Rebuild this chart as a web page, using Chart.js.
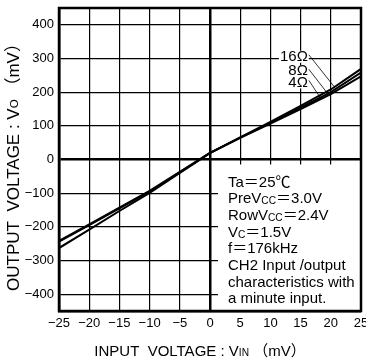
<!DOCTYPE html>
<html>
<head>
<meta charset="utf-8">
<script src="https://cdn.jsdelivr.net/npm/chart.js@4"></script>
<style>
  body { margin: 0; background: #fff; }
  #wrap { width: 366px; height: 362px; }
</style>
</head>
<body>
<div id="wrap"><canvas id="chart"></canvas></div>
<script>
const xs = [-25, -20, -15, -10, -5, 0, 5, 10, 15, 20, 25];
const vo4 = [-242, -193, -143, -93, -37, 20, 64, 107, 150, 194, 247];
const vo8 = [-244, -195, -145, -95, -38, 20, 65, 109, 154, 200, 258];
const vo16 = [-263, -208, -153, -99, -40, 19, 66, 112, 159, 208, 269];
const xTicks = [-25, -20, -15, -10, -5, 0, 5, 10, 15, 20, 25];
const yTicks = [-400, -300, -200, -100, 0, 100, 200, 300, 400];

const conditions = [
  [['Ta＝25℃']],
  [['PreV'], ['CC', 1], ['＝3.0V']],
  [['RowV'], ['CC', 1], ['＝2.4V']],
  [['V'], ['C', 1], ['＝1.5V']],
  [['f＝176kHz']],
  [['CH2 Input /output']],
  [['characteristics with']],
  [['a minute input.']]
];
const yTitle = [['OUTPUT  VOLTAGE : V'], ['O', 1], [' （mV）']];
const xTitle = [['INPUT  VOLTAGE : V'], ['IN', 1], [' （mV）']];

const FONT = '"Liberation Sans", Arial, "Noto Sans CJK JP", sans-serif';

function pts(vals) {
  return xs.map((x, i) => ({ x, y: vals[i] }));
}

function interp(vals, x) {
  for (let i = 0; i < xs.length - 1; i++) {
    if (x >= xs[i] && x <= xs[i + 1]) {
      const t = (x - xs[i]) / (xs[i + 1] - xs[i]);
      return vals[i] + t * (vals[i + 1] - vals[i]);
    }
  }
  return vals[vals.length - 1];
}

// draws text pieces, small ones are subscript-like small caps
function runsWidth(ctx, runs, size) {
  let w = 0;
  runs.forEach(r => {
    ctx.font = (r[1] ? size * 0.68 : size) + 'px ' + FONT;
    w += ctx.measureText(r[0]).width;
  });
  return w;
}
function drawRuns(ctx, runs, x, y, size) {
  runs.forEach(r => {
    ctx.font = (r[1] ? size * 0.68 : size) + 'px ' + FONT;
    ctx.fillText(r[0], x, y + (r[1] ? 1 : 0));
    x += ctx.measureText(r[0]).width;
  });
}

const decor = {
  id: 'decor',
  beforeDatasetsDraw(chart) {
    const { ctx, scales: { x, y }, chartArea: a } = chart;
    const left = x.getPixelForValue(0) + 8;
    const top = y.getPixelForValue(0) + 5;
    ctx.save();
    ctx.fillStyle = '#fff';
    ctx.fillRect(left, top, a.right - left, a.bottom - top);
    ctx.restore();
  },
  afterDraw(chart) {
    const { ctx, scales: { x, y }, chartArea: a } = chart;
    ctx.save();
    // frame
    ctx.strokeStyle = '#000';
    ctx.lineWidth = 2.5;
    ctx.strokeRect(a.left, a.top, a.right - a.left, a.bottom - a.top);

    // conditions text
    ctx.fillStyle = '#000';
    ctx.textBaseline = 'alphabetic';
    ctx.textAlign = 'left';
    const bx = x.getPixelForValue(0) + 18;
    const by = y.getPixelForValue(0) + 27;
    conditions.forEach((line, i) => drawRuns(ctx, line, bx, by + i * 16.7, 15));

    // load labels with leader lines
    const loads = [
      { text: '16Ω', tx: 16.2, ty: 305, ex: 20.6, vals: vo16 },
      { text: '8Ω', tx: 16.2, ty: 262, ex: 19.5, vals: vo8 },
      { text: '4Ω', tx: 16.2, ty: 229, ex: 18.4, vals: vo4 }
    ];
    ctx.textBaseline = 'middle';
    ctx.textAlign = 'right';
    loads.forEach(l => {
      const px = x.getPixelForValue(l.tx);
      const py = y.getPixelForValue(l.ty);
      ctx.font = '15px ' + FONT;
      const w = ctx.measureText(l.text).width;
      ctx.fillStyle = '#fff';
      ctx.fillRect(px - w - 1, py - 6, w + 2, 12);
      ctx.fillStyle = '#000';
      ctx.fillText(l.text, px, py);
      ctx.beginPath();
      ctx.lineWidth = 0.8;
      ctx.moveTo(px + 1, py - 2);
      ctx.lineTo(x.getPixelForValue(l.ex), y.getPixelForValue(interp(l.vals, l.ex)));
      ctx.stroke();
    });

    // axis titles
    ctx.textBaseline = 'middle';
    ctx.textAlign = 'left';
    const xw = runsWidth(ctx, xTitle, 15);
    drawRuns(ctx, xTitle, 200 - xw / 2, 352, 15);

    ctx.translate(14, 163);
    ctx.rotate(-Math.PI / 2);
    const yw = runsWidth(ctx, yTitle, 17);
    drawRuns(ctx, yTitle, -yw / 2, 0, 17);
    ctx.restore();
  }
};

const lineStyle = {
  borderColor: '#000',
  borderWidth: 2,
  pointRadius: 0,
  fill: false,
  tension: 0
};

new Chart(document.getElementById('chart'), {
  type: 'line',
  data: {
    datasets: [
      { label: '16Ω', data: pts(vo16), ...lineStyle },
      { label: '8Ω', data: pts(vo8), ...lineStyle },
      { label: '4Ω', data: pts(vo4), ...lineStyle }
    ]
  },
  options: {
    responsive: true,
    maintainAspectRatio: false,
    animation: false,
    layout: { padding: { left: 0, right: 5, top: 8, bottom: 0 } },
    plugins: { legend: { display: false }, tooltip: { enabled: false } },
    scales: {
      x: {
        type: 'linear',
        min: -25,
        max: 25,
        afterBuildTicks: s => { s.ticks = xTicks.map(v => ({ value: v })); },
        afterFit: s => { s.height = 51; s.paddingLeft = 0; s.paddingRight = 0; },
        grid: {
          color: '#000',
          lineWidth: c => (c.tick && c.tick.value === 0 ? 2.5 : 1.2),
          drawTicks: false
        },
        border: { display: true, color: '#000', width: 2.5 },
        ticks: {
          color: '#000',
          padding: 5,
          maxRotation: 0,
          font: { family: FONT, size: 13 },
          callback: v => (v < 0 ? '−' + Math.abs(v) : String(v))
        }
      },
      y: {
        min: -450,
        max: 450,
        afterBuildTicks: s => { s.ticks = yTicks.map(v => ({ value: v })); },
        afterFit: s => { s.width = 59; s.paddingTop = 0; s.paddingBottom = 0; },
        grid: {
          color: '#000',
          lineWidth: c => (c.tick && c.tick.value === 0 ? 2.5 : 1.2),
          drawTicks: false
        },
        border: { display: true, color: '#000', width: 2.5 },
        ticks: {
          color: '#000',
          padding: 5,
          font: { family: FONT, size: 13 },
          callback: v => (v < 0 ? '−' + Math.abs(v) : String(v))
        }
      }
    }
  },
  plugins: [decor]
});
</script>
</body>
</html>
